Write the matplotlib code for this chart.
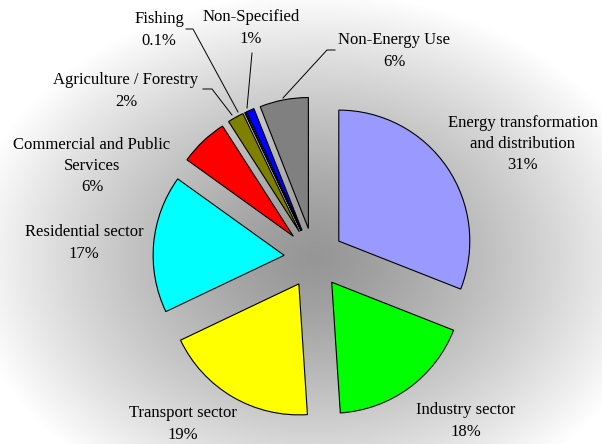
#!/usr/bin/env python3

''' Final energy consumption by sector - exploded pie '''
import numpy as np
from matplotlib import pyplot as plt

sectors = ['Energy transformation\nand distribution', 'Industry sector',
           'Transport sector', 'Residential sector',
           'Commercial and Public\nServices', 'Agriculture / Forestry',
           'Fishing', 'Non-Specified', 'Non-Energy Use']
shares = [31, 18, 19, 17, 6, 2, 0.1, 1, 6]
share_labels = ['31%', '18%', '19%', '17%', '6%', '2%', '0.1%', '1%', '6%']
colors = ['#9999FF', '#00FF00', '#FFFF00', '#00FFFF', '#FF0000',
          '#808000', '#333333', '#0000FF', '#808080']

W, H = 602, 444
cx, cy, R = 314, 258, 131   # pie centre and radius in pixels


def px(x, y):
    # pixel position -> data units (pie radius = 1)
    return (x - cx) / R, (cy - y) / R


plt.rcParams['font.family'] = ['Liberation Serif', 'DejaVu Serif']

fig = plt.figure(figsize=(W / 100, H / 100), dpi=100)
ax = fig.add_axes([0, 0, 1, 1])

# radial grey background, dark in the middle
gx, gy = np.meshgrid(np.arange(W), np.arange(H))
r = np.sqrt(((gx - cx) / (0.58 * W)) ** 2 + ((gy - cy) / (0.6 * H)) ** 2)
g = 150 + 105 * np.clip(r, 0, 1) ** 1.3
img = np.dstack([g, g, g]) / 255
x0, y1 = px(0, 0)
x1, y0 = px(W, H)
ax.imshow(img, extent=(x0, x1, y0, y1), origin='upper', zorder=0)

wedges, _ = ax.pie(shares, colors=colors, startangle=90, counterclock=False,
                   explode=[30 / R] * len(shares), radius=1,
                   wedgeprops=dict(edgecolor='black', linewidth=0.8))
for w in wedges:
    w.set_zorder(2)

ax.set_xlim(x0, x1)
ax.set_ylim(y0, y1)
ax.set_aspect('equal')
ax.axis('off')

# label centres in pixels
label_pos = [(523, 144), (466, 421), (183, 424), (84, 243), (92, 166),
             (126, 91), (159, 30), (251, 28), (394, 51)]
for name, pct, (lx, ly) in zip(sectors, share_labels, label_pos):
    ax.text(*px(lx, ly), name + '\n' + pct, ha='center', va='center',
            fontsize=12, linespacing=1.45, zorder=3)

# leader lines for the small slices
leaders = [
    [(232, 115), (212, 89), (203, 89)],
    [(238, 112), (193, 29), (186, 29)],
    [(247, 108), (252, 53)],
    [(283, 98), (327, 50), (335, 50)],
]
for pts in leaders:
    xs, ys = zip(*[px(x, y) for x, y in pts])
    ax.plot(xs, ys, color='black', linewidth=0.7, zorder=3)

fig.savefig('out.png', dpi=100)
